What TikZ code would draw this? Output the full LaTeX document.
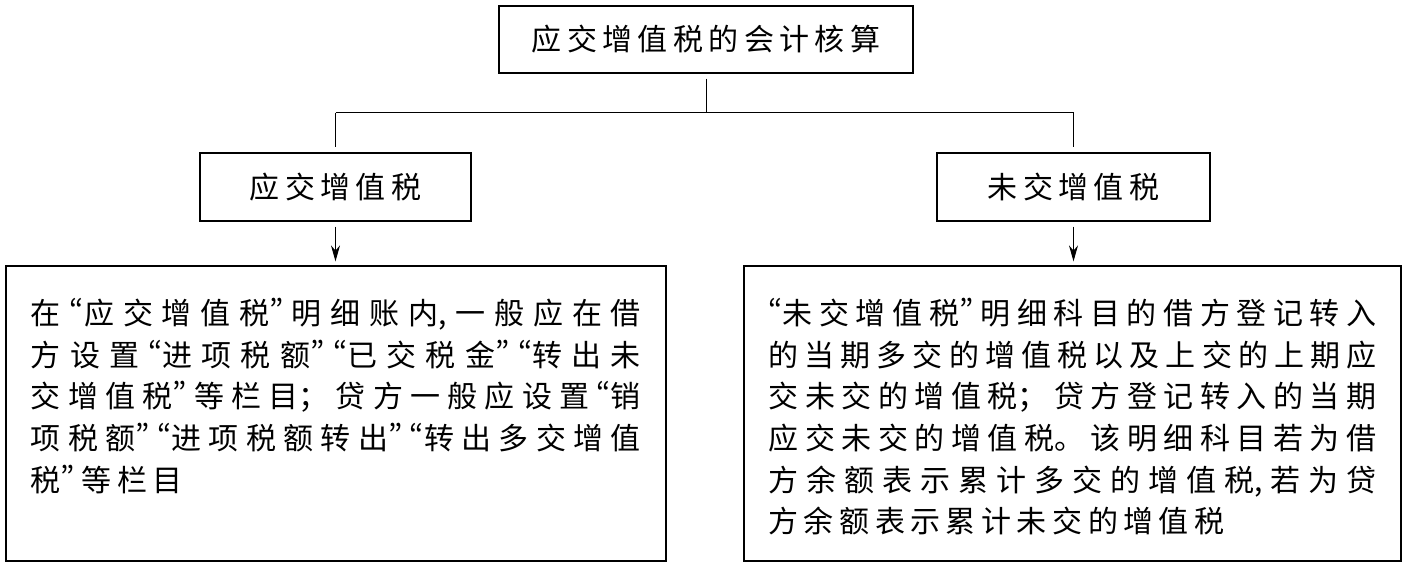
\documentclass[tikz,border=0pt]{standalone}
\usepackage{fontspec}
\setmainfont{Noto Sans CJK SC}
\newfontfamily\cjkwide[LetterSpace=18]{Noto Sans CJK SC}
\newfontfamily\cjkbody[CharacterWidth=Proportional]{Noto Sans CJK SC}
\usetikzlibrary{arrows.meta}
\XeTeXlinebreaklocale "zh"
\XeTeXlinebreakskip=2.75pt plus 6pt minus 2pt
\setlength{\parindent}{0pt}

\begin{document}
\begin{tikzpicture}[x=0.5pt,y=-0.5pt]

\tikzset{head/.style = {draw, line width=0.6pt, font=\cjkwide\fontsize{15}{18}\selectfont, inner sep=0pt}}
\tikzset{detail/.style = {draw, line width=0.6pt, font=\cjkbody\fontsize{15}{20.85}\selectfont, inner xsep=12.5pt, inner ysep=16pt}}
\tikzset{link/.style = {line width=0.5pt}}
\tikzset{edge/.style = {link, -{Stealth[length=8pt,width=4.5pt]}}}

\useasboundingbox (0,0) rectangle (1409,567);
%boxes
\node[head, minimum width=207pt, minimum height=33.5pt] (total) at (706,39.5) {应交增值税的会计核算};
\node[head, minimum width=135.5pt, minimum height=34pt] (lmid) at (335.5,187) {应交增值税};
\node[head, minimum width=136.5pt, minimum height=34pt] (rmid) at (1073.5,187) {未交增值税};
\node[detail] (lbox) at (336,413.5) {\begin{minipage}[c][115.5pt][t]{305pt}
在“应交增值税”~明细账内，一般应在借\linebreak
方设置“进项税额”“已交税金”“转出未\linebreak
交增值税”~等栏目；贷方一般应设置“销\linebreak
项税额”“进项税额转出”“转出多交增值\linebreak
税”~等栏目
\end{minipage}};
\node[detail, inner xsep=12.25pt] (rbox) at (1072.5,413.5) {\begin{minipage}[c][115.5pt][t]{304pt}
“未交增值税”~明细科目的借方登记转入\linebreak
的当期多交的增值税以及上交的上期应\linebreak
交未交的增值税；贷方登记转入的当期\linebreak
应交未交的增值税。该明细科目若为借\linebreak
方余额表示累计多交的增值税，若为贷\linebreak
方余额表示累计未交的增值税
\end{minipage}};
%connectors
\coordinate (fork) at (706,113);
\draw[link, shorten <=2.5pt] (total) -- (fork);
\draw[link] (fork -| lmid) -- (fork -| rmid);
\draw[link, shorten >=2.5pt] (fork -| lmid) -- (lmid);
\draw[link, shorten >=2.5pt] (fork -| rmid) -- (rmid);
\draw[edge, shorten <=2.5pt, shorten >=2pt] (lmid) -- (lmid |- lbox.north);
\draw[edge, shorten <=2.5pt, shorten >=2pt] (rmid) -- (rmid |- rbox.north);

\end{tikzpicture}
\end{document}
